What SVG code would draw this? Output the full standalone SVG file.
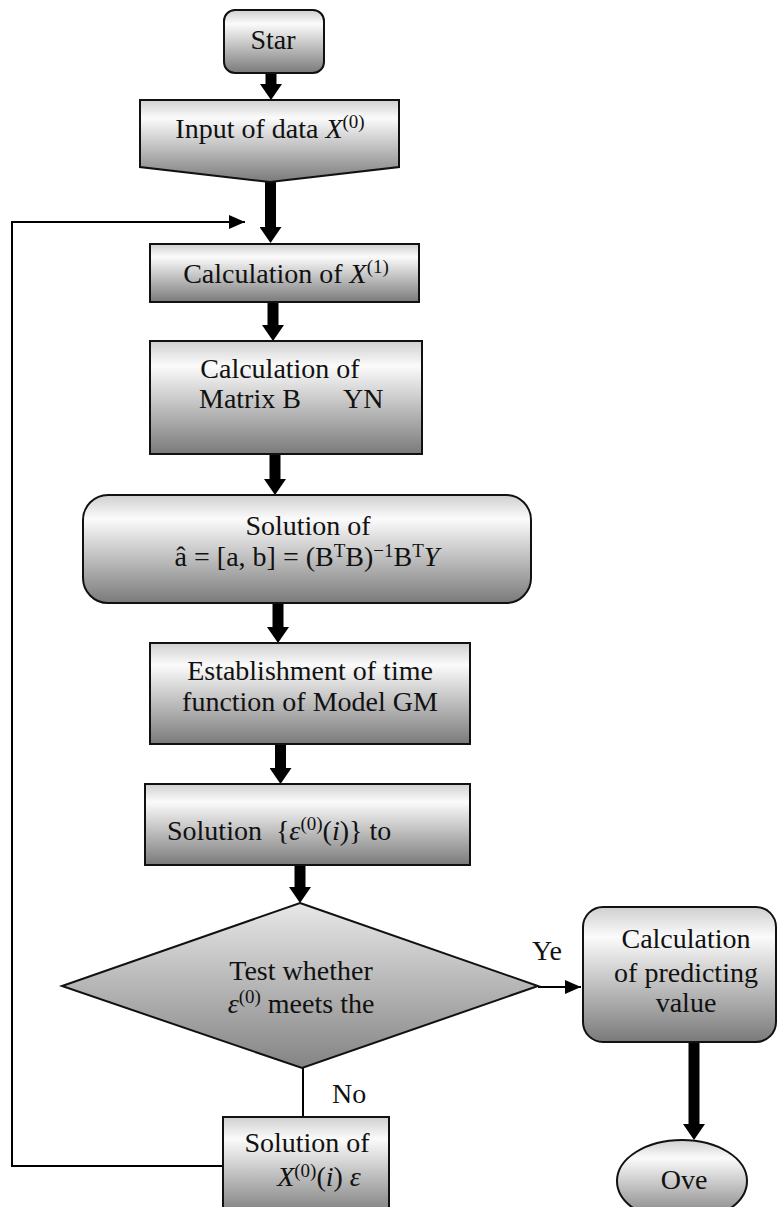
<svg xmlns="http://www.w3.org/2000/svg" width="777" height="1207" viewBox="0 0 777 1207">
<defs>
<linearGradient id="gBox" x1="0" y1="0" x2="0" y2="1">
<stop offset="0" stop-color="#cfcfcf"/>
<stop offset="0.22" stop-color="#fbfbfb"/>
<stop offset="1" stop-color="#7a7a7a"/>
</linearGradient>
<linearGradient id="gDia" x1="0" y1="0" x2="0" y2="1">
<stop offset="0" stop-color="#e8e8e8"/>
<stop offset="1" stop-color="#848484"/>
</linearGradient>
<marker id="thickHead" markerUnits="userSpaceOnUse" markerWidth="16" markerHeight="22" refX="0" refY="11" orient="auto" viewBox="0 0 16 22">
<path d="M0,0 L16,11 L0,22 Z" fill="#000"/>
</marker>
<marker id="thinHead" markerUnits="userSpaceOnUse" markerWidth="16" markerHeight="14" refX="16" refY="7" orient="auto" viewBox="0 0 16 14">
<path d="M0,0 L16,7 L0,14 Z" fill="#000"/>
</marker>
<style>
.shape{fill:url(#gBox);stroke:#111;stroke-width:2}
.dia{fill:url(#gDia);stroke:#111;stroke-width:2}
text{font-family:"Liberation Serif","DejaVu Serif",serif;font-size:28px;fill:#111}
.c{text-anchor:middle}
.i{font-style:italic}
.sup{font-size:19px}
.thick{stroke:#000;stroke-width:11;fill:none}
.thin{stroke:#000;stroke-width:2;fill:none}
</style>
</defs>

<g id="connectors">
<line class="thick" x1="271" y1="73" x2="271" y2="84" marker-end="url(#thickHead)"/>
<line class="thick" x1="270.5" y1="182" x2="270.5" y2="227" marker-end="url(#thickHead)"/>
<line class="thick" x1="273" y1="302" x2="273" y2="325" marker-end="url(#thickHead)"/>
<line class="thick" x1="275" y1="454" x2="275" y2="479" marker-end="url(#thickHead)"/>
<line class="thick" x1="278" y1="603" x2="278" y2="627" marker-end="url(#thickHead)"/>
<line class="thick" x1="280.5" y1="744" x2="280.5" y2="768" marker-end="url(#thickHead)"/>
<line class="thick" x1="300" y1="865" x2="300" y2="887" marker-end="url(#thickHead)"/>
<line class="thick" x1="694" y1="1042" x2="694" y2="1124" marker-end="url(#thickHead)"/>
<line class="thin" x1="538" y1="987" x2="581" y2="987" marker-end="url(#thinHead)"/>
<line class="thin" x1="303" y1="1068" x2="303" y2="1117"/>
<polyline class="thin" points="223,1166 12,1166 12,222 245,222" marker-end="url(#thinHead)"/>
<text x="532" y="960">Ye</text>
<text x="332" y="1103">No</text>
</g>

<g id="start">
<rect class="shape" x="224" y="10" width="100" height="63" rx="11"/>
<text class="c" x="273" y="49">Star</text>
</g>

<g id="input">
<polygon class="shape" points="140,100 399,100 399,167 270,182 140,167"/>
<text class="c" x="270" y="138">Input of data <tspan class="i">X</tspan><tspan class="sup" dy="-10">(0)</tspan></text>
</g>

<g id="calcX1">
<rect class="shape" x="150" y="244" width="269" height="58"/>
<text class="c" x="286" y="283">Calculation of <tspan class="i">X</tspan><tspan class="sup" dy="-10">(1)</tspan></text>
</g>

<g id="matrix">
<rect class="shape" x="150" y="341" width="272" height="113"/>
<text class="c" x="280" y="378">Calculation of</text>
<text x="199" y="408">Matrix B</text>
<text x="343" y="408">YN</text>
</g>

<g id="solutionAB">
<rect class="shape" x="83" y="495" width="448" height="108" rx="25"/>
<text class="c" x="308" y="535">Solution of</text>
<text class="c" x="307" y="566">â = [a, b] = (B<tspan class="sup" dy="-9">T</tspan><tspan dy="9">B)</tspan><tspan class="sup" dy="-9">−1</tspan><tspan dy="9">B</tspan><tspan class="sup" dy="-9">T</tspan><tspan class="i" dy="9">Y</tspan></text>
</g>

<g id="establish">
<rect class="shape" x="150" y="643" width="320" height="101"/>
<text class="c" x="310" y="680">Establishment of time</text>
<text class="c" x="310" y="711">function of Model GM</text>
</g>

<g id="solutionEps">
<rect class="shape" x="145" y="784" width="325" height="81"/>
<text x="167" y="840" xml:space="preserve">Solution  {<tspan class="i">ε</tspan><tspan class="sup" dy="-10">(0)</tspan><tspan dy="10">(</tspan><tspan class="i">i</tspan>)} to</text>
</g>

<g id="test">
<polygon class="dia" points="300,903 538,986 302,1068 62,986"/>
<text class="c" x="301" y="980">Test whether</text>
<text class="c" x="301" y="1013"><tspan class="i">ε</tspan><tspan class="sup" dy="-10">(0)</tspan><tspan dy="10"> meets the</tspan></text>
</g>

<g id="predict">
<rect class="shape" x="583" y="907" width="193" height="135" rx="20"/>
<text class="c" x="686" y="948">Calculation</text>
<text class="c" x="686" y="982">of predicting</text>
<text class="c" x="686" y="1012">value</text>
</g>

<g id="over">
<ellipse class="shape" cx="682" cy="1181" rx="65" ry="41"/>
<text class="c" x="684" y="1189">Ove</text>
</g>

<g id="solutionX0">
<rect class="shape" x="223" y="1117" width="166" height="100"/>
<text class="c" x="307" y="1152">Solution of</text>
<text class="c" x="319" y="1186"><tspan class="i">X</tspan><tspan class="sup" dy="-9">(0)</tspan><tspan dy="9">(</tspan><tspan class="i">i</tspan>) <tspan class="i">ε</tspan></text>
</g>
</svg>
